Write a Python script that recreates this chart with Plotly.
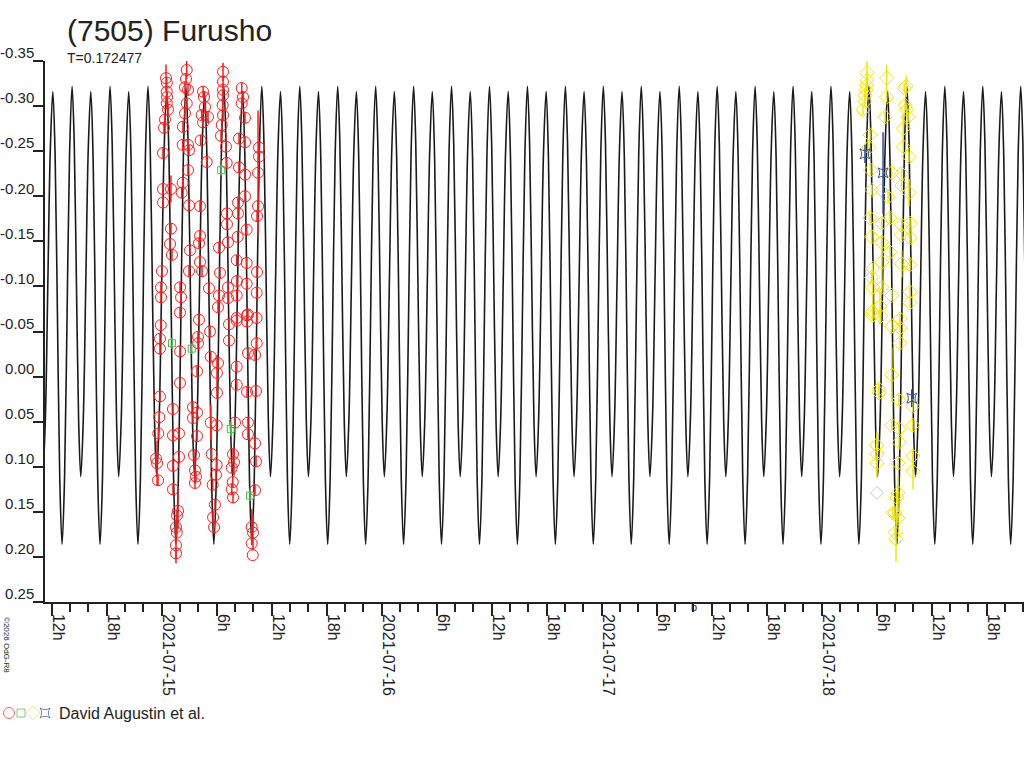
import pandas as pd
import plotly.graph_objects as go

# Lightcurve of (7505) Furusho (hours from 2021-07-15 00:00 UT, relative mag)
red_hours = [0.47, 0.55, 0.55, 0.58, 0.55, 0.69, 0.36, 0.25, 0.14, 0.14, 1.01, 0.14, 1.01, 0.91, 1.12, 0.03, -0.08, -0.08,
             2.00, 2.11, 2.00, 2.73, 2.65, 2.54, 2.87, 2.73, 2.54, 2.32, 2.29, 2.87, 2.98, 2.87, 2.29, 2.18, 2.98, 3.09,
             2.98, 4.18, 4.07, 4.18, 4.40, 4.18, 4.25, 4.91, 4.51, 4.61, 4.72, 4.36, 4.51, 5.05, 5.16, 6.69, 6.69, 6.69,
             6.69, 6.65, 6.69, 6.55, 6.47, 7.01, 7.09, 6.25, 7.12, 7.12, 6.36, 6.25, 7.23, 7.23, 6.14, 8.73, 8.87, 8.73,
             9.09, 8.43, 9.09, 8.43, 9.09, 9.09, 8.32, 8.32, 9.27, 8.29, 7.23, 8.18, 9.27, 8.21, 9.27, 8.18, 8.18, 9.41,
             10.61, 10.61, 10.51, 10.51, 10.40, 10.40, 10.36, -0.11, -0.19, -0.19, -0.19, -0.26, -0.37, -0.62, -0.51,
             -0.40, 2.00, 2.00, 1.23, 1.23, 1.89, 1.89, 1.23, 1.23, 1.78, 1.56, 1.64, 1.56, 1.56, 1.67, 4.07, 3.96, 3.96,
             3.85, 3.41, 3.85, 3.41, 3.85, 3.52, 3.63, 3.74, 3.63, 5.27, 5.35, 6.14, 6.03, 6.03, 5.35, 6.00, 5.45, 6.00,
             5.92, 5.56, 5.81, 5.60, 5.71, 7.34, 8.18, 7.34, 8.18, 8.18, 8.00, 7.78, 7.89, 7.64, 7.75, 7.64, 7.78, 9.31,
             10.36, 9.31, 10.36, 9.41, 10.18, 9.31, 10.29, 9.41, 9.41, 10.18, 10.29, 10.18, 9.82, 9.96, 9.82, 9.93]
red_mag = [-0.331, -0.326, -0.316, -0.310, -0.303, -0.296, -0.285, -0.276, -0.248, -0.208, -0.208, -0.193, -0.164, -0.147,
           -0.135, -0.117, -0.099, -0.088, -0.099, -0.088, -0.071, -0.340, -0.330, -0.321, -0.318, -0.303, -0.292, -0.277,
           -0.257, -0.257, -0.251, -0.229, -0.215, -0.204, -0.190, -0.140, -0.117, -0.156, -0.148, -0.127, -0.117, -0.189,
           -0.262, -0.238, -0.316, -0.310, -0.299, -0.290, -0.282, -0.288, -0.098, -0.338, -0.327, -0.318, -0.312, -0.301,
           -0.290, -0.279, -0.267, -0.255, -0.237, -0.143, -0.181, -0.169, -0.115, -0.090, -0.099, -0.087, -0.077, -0.320,
           -0.310, -0.303, -0.287, -0.264, -0.260, -0.232, -0.224, -0.200, -0.193, -0.181, -0.163, -0.155, -0.149, -0.129,
           -0.126, -0.106, -0.103, -0.090, -0.065, -0.069, -0.254, -0.244, -0.226, -0.189, -0.178, -0.116, -0.093, -0.057,
           -0.042, -0.031, 0.022, 0.045, 0.063, 0.091, 0.096, 0.115, -0.028, 0.007, 0.036, 0.065, 0.063, 0.089, 0.099,
           0.125, 0.149, 0.167, 0.173, 0.187, 0.196, 0.154, -0.063, -0.044, -0.037, -0.006, 0.034, 0.040, 0.046, 0.066,
           0.087, 0.104, 0.111, 0.118, -0.050, -0.022, -0.015, -0.004, 0.018, 0.051, 0.054, 0.086, 0.098, 0.109, 0.120,
           0.142, 0.156, 0.167, -0.058, -0.062, -0.040, -0.011, 0.009, 0.051, 0.086, 0.095, 0.101, 0.117, 0.125, 0.134,
           -0.068, -0.065, -0.061, -0.037, -0.026, -0.024, 0.017, 0.016, 0.051, 0.064, 0.074, 0.094, 0.126, 0.167, 0.173,
           0.185, 0.198]
red_err = [0.015, 0.006, 0.006, 0.006, 0.006, 0.006, 0.006, 0.006, 0.006, 0.006, 0.015, 0.006, 0.006, 0.006, 0.006, 0.006,
           0.006, 0.006, 0.006, 0.006, 0.006, 0.010, 0.006, 0.006, 0.006, 0.006, 0.006, 0.006, 0.006, 0.006, 0.006, 0.006,
           0.006, 0.006, 0.006, 0.006, 0.006, 0.006, 0.006, 0.006, 0.006, 0.006, 0.006, 0.006, 0.006, 0.006, 0.006, 0.006,
           0.006, 0.006, 0.006, 0.010, 0.006, 0.006, 0.006, 0.006, 0.006, 0.006, 0.006, 0.006, 0.006, 0.006, 0.006, 0.006,
           0.006, 0.006, 0.006, 0.006, 0.006, 0.006, 0.006, 0.006, 0.006, 0.006, 0.006, 0.006, 0.006, 0.006, 0.006, 0.006,
           0.006, 0.006, 0.006, 0.006, 0.006, 0.006, 0.006, 0.006, 0.006, 0.006, 0.006, 0.006, 0.069, 0.006, 0.006, 0.006,
           0.006, 0.006, 0.006, 0.006, 0.006, 0.006, 0.006, 0.006, 0.025, 0.006, 0.006, 0.006, 0.006, 0.006, 0.006, 0.006,
           0.006, 0.006, 0.020, 0.006, 0.006, 0.020, 0.006, 0.006, 0.006, 0.006, 0.006, 0.006, 0.006, 0.006, 0.006, 0.006,
           0.006, 0.015, 0.006, 0.006, 0.006, 0.006, 0.006, 0.020, 0.006, 0.020, 0.006, 0.006, 0.006, 0.006, 0.006, 0.006,
           0.006, 0.006, 0.006, 0.006, 0.006, 0.006, 0.006, 0.006, 0.006, 0.015, 0.006, 0.006, 0.006, 0.006, 0.006, 0.006,
           0.006, 0.006, 0.006, 0.006, 0.006, 0.006, 0.006, 0.006, 0.006, 0.006, 0.006, 0.020, 0.020]

green_hours = [6.49, 1.12, 3.27, 7.53, 9.63]
green_mag = [-0.229, -0.037, -0.031, 0.058, 0.132]
green_err = [0.006, 0.006, 0.006, 0.008, 0.006]

grey_hours = [78.03, 78.47]
grey_mag = [0.129, -0.207]

blue_hours = [76.72, 78.69, 81.82]
blue_mag = [-0.247, -0.226, 0.024]
blue_err = [0.010, 0.045, 0.010]

yellow_hours = [76.94, 76.94, 76.91, 76.83, 76.72, 76.72, 76.50, 79.09, 79.09, 78.91, 81.21, 81.00, 81.10, 81.27, 81.42,
                80.89, 77.27, 77.16, 80.89, 81.52, 77.34, 79.64, 80.72, 80.72, 77.45, 79.24, 81.52, 77.27, 79.45, 78.55,
                80.72, 81.63, 77.45, 80.72, 81.63, 78.55, 79.45, 78.55, 77.56, 80.72, 81.63, 77.45, 77.56, 78.55, 79.64,
                81.63, 81.63, 77.56, 78.36, 77.56, 78.43, 79.64, 80.54, 80.54, 80.54, 79.64, 78.25, 78.25, 80.43, 81.93,
                79.64, 80.43, 81.93, 80.43, 78.00, 78.03, 78.03, 80.32, 81.93, 81.96, 80.32, 80.18, 80.00, 80.32, 79.78,
                80.00, 80.11]
yellow_mag = [-0.337, -0.329, -0.323, -0.318, -0.312, -0.305, -0.296, -0.331, -0.310, -0.288, -0.322, -0.320, -0.301,
              -0.296, -0.288, -0.275, -0.268, -0.254, -0.255, -0.244, -0.229, -0.226, -0.225, -0.212, -0.207, -0.199,
              -0.204, -0.176, -0.176, -0.170, -0.168, -0.170, -0.155, -0.157, -0.154, -0.149, -0.138, -0.127, -0.120,
              -0.125, -0.124, -0.110, -0.099, -0.099, -0.090, -0.094, -0.082, -0.072, -0.078, -0.068, -0.067, -0.056,
              -0.064, -0.054, -0.037, -0.002, 0.014, 0.018, 0.026, 0.033, 0.054, 0.058, 0.054, 0.073, 0.076, 0.086, 0.096,
              0.096, 0.088, 0.105, 0.129, 0.134, 0.151, 0.157, 0.151, 0.173, 0.180]
yellow_err = [0.020, 0.006, 0.006, 0.006, 0.006, 0.006, 0.006, 0.015, 0.006, 0.006, 0.012, 0.006, 0.006, 0.006, 0.006,
              0.015, 0.006, 0.006, 0.006, 0.006, 0.006, 0.006, 0.006, 0.006, 0.006, 0.006, 0.015, 0.006, 0.006, 0.006,
              0.006, 0.006, 0.006, 0.006, 0.006, 0.006, 0.006, 0.030, 0.006, 0.015, 0.006, 0.006, 0.020, 0.006, 0.006,
              0.006, 0.006, 0.006, 0.020, 0.006, 0.006, 0.006, 0.006, 0.006, 0.006, 0.030, 0.006, 0.006, 0.006, 0.006,
              0.006, 0.006, 0.006, 0.006, 0.006, 0.025, 0.006, 0.006, 0.006, 0.020, 0.020, 0.006, 0.006, 0.006, 0.006,
              0.006, 0.025]

# model curve: one rotation (T=0.172477 d), phase 0 = deeper minimum
period_days = 0.172477
epoch_hours = -10.87
model_phase = [0.0, 0.066, 0.132, 0.198, 0.264, 0.321, 0.378, 0.436, 0.493, 0.559, 0.625, 0.691, 0.757, 0.818, 0.879, 0.939]
model_mag = [0.186, 0.112, -0.068, -0.248, -0.322, -0.259, -0.106, 0.048, 0.111, 0.048, -0.103, -0.253, -0.316, -0.243,
             -0.065, 0.113]

x_tickvals = ["2021-07-14 12:00", "2021-07-14 18:00", "2021-07-15 00:00", "2021-07-15 06:00", "2021-07-15 12:00",
              "2021-07-15 18:00", "2021-07-16 00:00", "2021-07-16 06:00", "2021-07-16 12:00", "2021-07-16 18:00",
              "2021-07-17 00:00", "2021-07-17 06:00", "2021-07-17 12:00", "2021-07-17 18:00", "2021-07-18 00:00",
              "2021-07-18 06:00", "2021-07-18 12:00", "2021-07-18 18:00"]
x_ticktext = ["12h", "18h", "2021-07-15", "6h", "12h", "18h", "2021-07-16", "6h", "12h", "18h", "2021-07-17", "6h",
              "12h", "18h", "2021-07-18", "6h", "12h", "18h"]
y_tickvals = [-0.35, -0.30, -0.25, -0.20, -0.15, -0.10, -0.05, 0.00, 0.05, 0.10, 0.15, 0.20, 0.25]
y_ticktext = ["-0.35", "-0.30", "-0.25", "-0.20", "-0.15", "-0.10", "-0.05", "0.00", "0.05", "0.10", "0.15", "0.20", "0.25"]

base = pd.Timestamp("2021-07-15 00:00")


def to_time(hours):
    return base + pd.to_timedelta(pd.Series(hours), unit="h")


period_h = period_days * 24
model_h = []
model_y = []
for k in range(-4, 26):
    for ph, mg in zip(model_phase, model_mag):
        t = epoch_hours + (k + ph) * period_h
        if -14 < t < 96:
            model_h.append(t)
            model_y.append(mg)

RED = "#ff1a1a"
GREEN = "#4cb84c"
YELLOW = "#f2e600"
BLUE = "#2e4f9e"
GREY = "#c8c8c8"
FONT = "Liberation Sans, Arial, sans-serif"

fig = go.Figure()
fig.add_trace(go.Scatter(x=to_time(model_h), y=model_y, mode="lines", line=dict(color="#1a1a1a", width=1.6, shape="spline"),
                         hoverinfo="skip"))


def add_points(hours, mags, err, color, symbol, size):
    fig.add_trace(go.Scatter(
        x=to_time(hours), y=mags, mode="markers",
        marker=dict(symbol=symbol, size=size, color=color, line=dict(color=color, width=1)),
        error_y=dict(type="data", array=err, visible=err is not None, color=color, thickness=1.5, width=0)))


add_points(red_hours, red_mag, red_err, RED, "circle-open", 11)
add_points(green_hours, green_mag, green_err, GREEN, "square-open", 7)
add_points(grey_hours, grey_mag, None, GREY, "diamond-open", 10)
add_points(yellow_hours, yellow_mag, yellow_err, YELLOW, "diamond-open", 11)
add_points(blue_hours, blue_mag, blue_err, BLUE, "star-square-open", 9)

# legend key symbols
LEG_YELLOW = "#e8dc50"
fig.add_trace(go.Scatter(x=[0, 1, 2, 3], y=[0, 0, 0, 0], mode="markers", xaxis="x2", yaxis="y2",
                         marker=dict(symbol=["circle-open", "square-open", "diamond-open", "star-square-open"],
                                     size=[11, 8, 11, 9], color=[RED, GREEN, LEG_YELLOW, BLUE],
                                     line=dict(color=[RED, GREEN, LEG_YELLOW, BLUE], width=1)),
                         hoverinfo="skip"))

fig.update_layout(
    width=1024, height=768,
    margin=dict(l=0, r=0, t=0, b=0),
    paper_bgcolor="white", plot_bgcolor="white",
    showlegend=False,
    font=dict(family=FONT, color="#222222", size=16),
    xaxis=dict(
        domain=[45 / 1024, 1],
        type="date",
        range=["2021-07-14 11:16:07", "2021-07-18 22:04:08"],
        tickmode="array", tickvals=x_tickvals, ticktext=x_ticktext,
        tickangle=90, ticks="outside", ticklen=12, tickcolor="#222222", tickwidth=1.5,
        ticklabelshift=6, ticklabelstandoff=-5,
        minor=dict(ticks="outside", ticklen=8, tickcolor="#222222", tickwidth=1.5,
                   tickmode="linear", tick0="2021-07-14 12:00", dtick=2 * 3600 * 1000, showgrid=False),
        showline=True, linecolor="#222222", linewidth=1.5,
        showgrid=False, zeroline=False, automargin=False,
        tickfont=dict(size=16, family=FONT, color="#222222"),
    ),
    yaxis=dict(
        domain=[1 - 602 / 768, 1 - 61 / 768],
        range=[0.25, -0.35],
        tickmode="array", tickvals=y_tickvals, ticktext=y_ticktext,
        ticks="outside", ticklen=10, tickcolor="#222222", tickwidth=1.5,
        ticklabelshift=8, ticklabelstandoff=-4,
        showline=True, linecolor="#222222", linewidth=1.5,
        showgrid=False, zeroline=False, automargin=False,
        tickfont=dict(size=15, family=FONT, color="#222222"),
    ),
    xaxis2=dict(domain=[3 / 1024, 51 / 1024], range=[-0.5, 3.5], visible=False, anchor="y2"),
    yaxis2=dict(domain=[1 - 723 / 768, 1 - 703 / 768], range=[-1, 1], visible=False, anchor="x2"),
    shapes=[dict(type="line", xref="paper", yref="paper", x0=36 / 1024, x1=45 / 1024,
                 y0=1 - 602 / 768, y1=1 - 602 / 768, line=dict(color="#222222", width=1.5))],
    annotations=[
        dict(text="(7505) Furusho", x=65 / 1024, y=1 - 30 / 768, xref="paper", yref="paper",
             xanchor="left", yanchor="middle", showarrow=False, font=dict(size=30, family=FONT, color="#222222")),
        dict(text="T=0.172477", x=65 / 1024, y=1 - 58 / 768, xref="paper", yref="paper",
             xanchor="left", yanchor="middle", showarrow=False, font=dict(size=14, family=FONT, color="#222222")),
        dict(text="David Augustin et al.", x=57 / 1024, y=1 - 713 / 768, xref="paper", yref="paper",
             xanchor="left", yanchor="middle", showarrow=False, font=dict(size=16, family=FONT, color="#222222")),
        dict(text="©2026 OdG-R8", x=7 / 1024, y=1 - 645 / 768, xref="paper", yref="paper", textangle=90,
             xanchor="center", yanchor="middle", showarrow=False, font=dict(size=8, family=FONT, color="#222222")),
        dict(text="b", x=694 / 1024, y=1 - 607 / 768, xref="paper", yref="paper",
             xanchor="center", yanchor="middle", showarrow=False, font=dict(size=11, family=FONT, color="#222222")),
    ],
)

# the page body has a default 8px margin; drop it so the figure sits at the window's top-left corner
fig.write_html("out.html", config={"displayModeBar": False},
               post_script="document.body.style.margin = '0';")
